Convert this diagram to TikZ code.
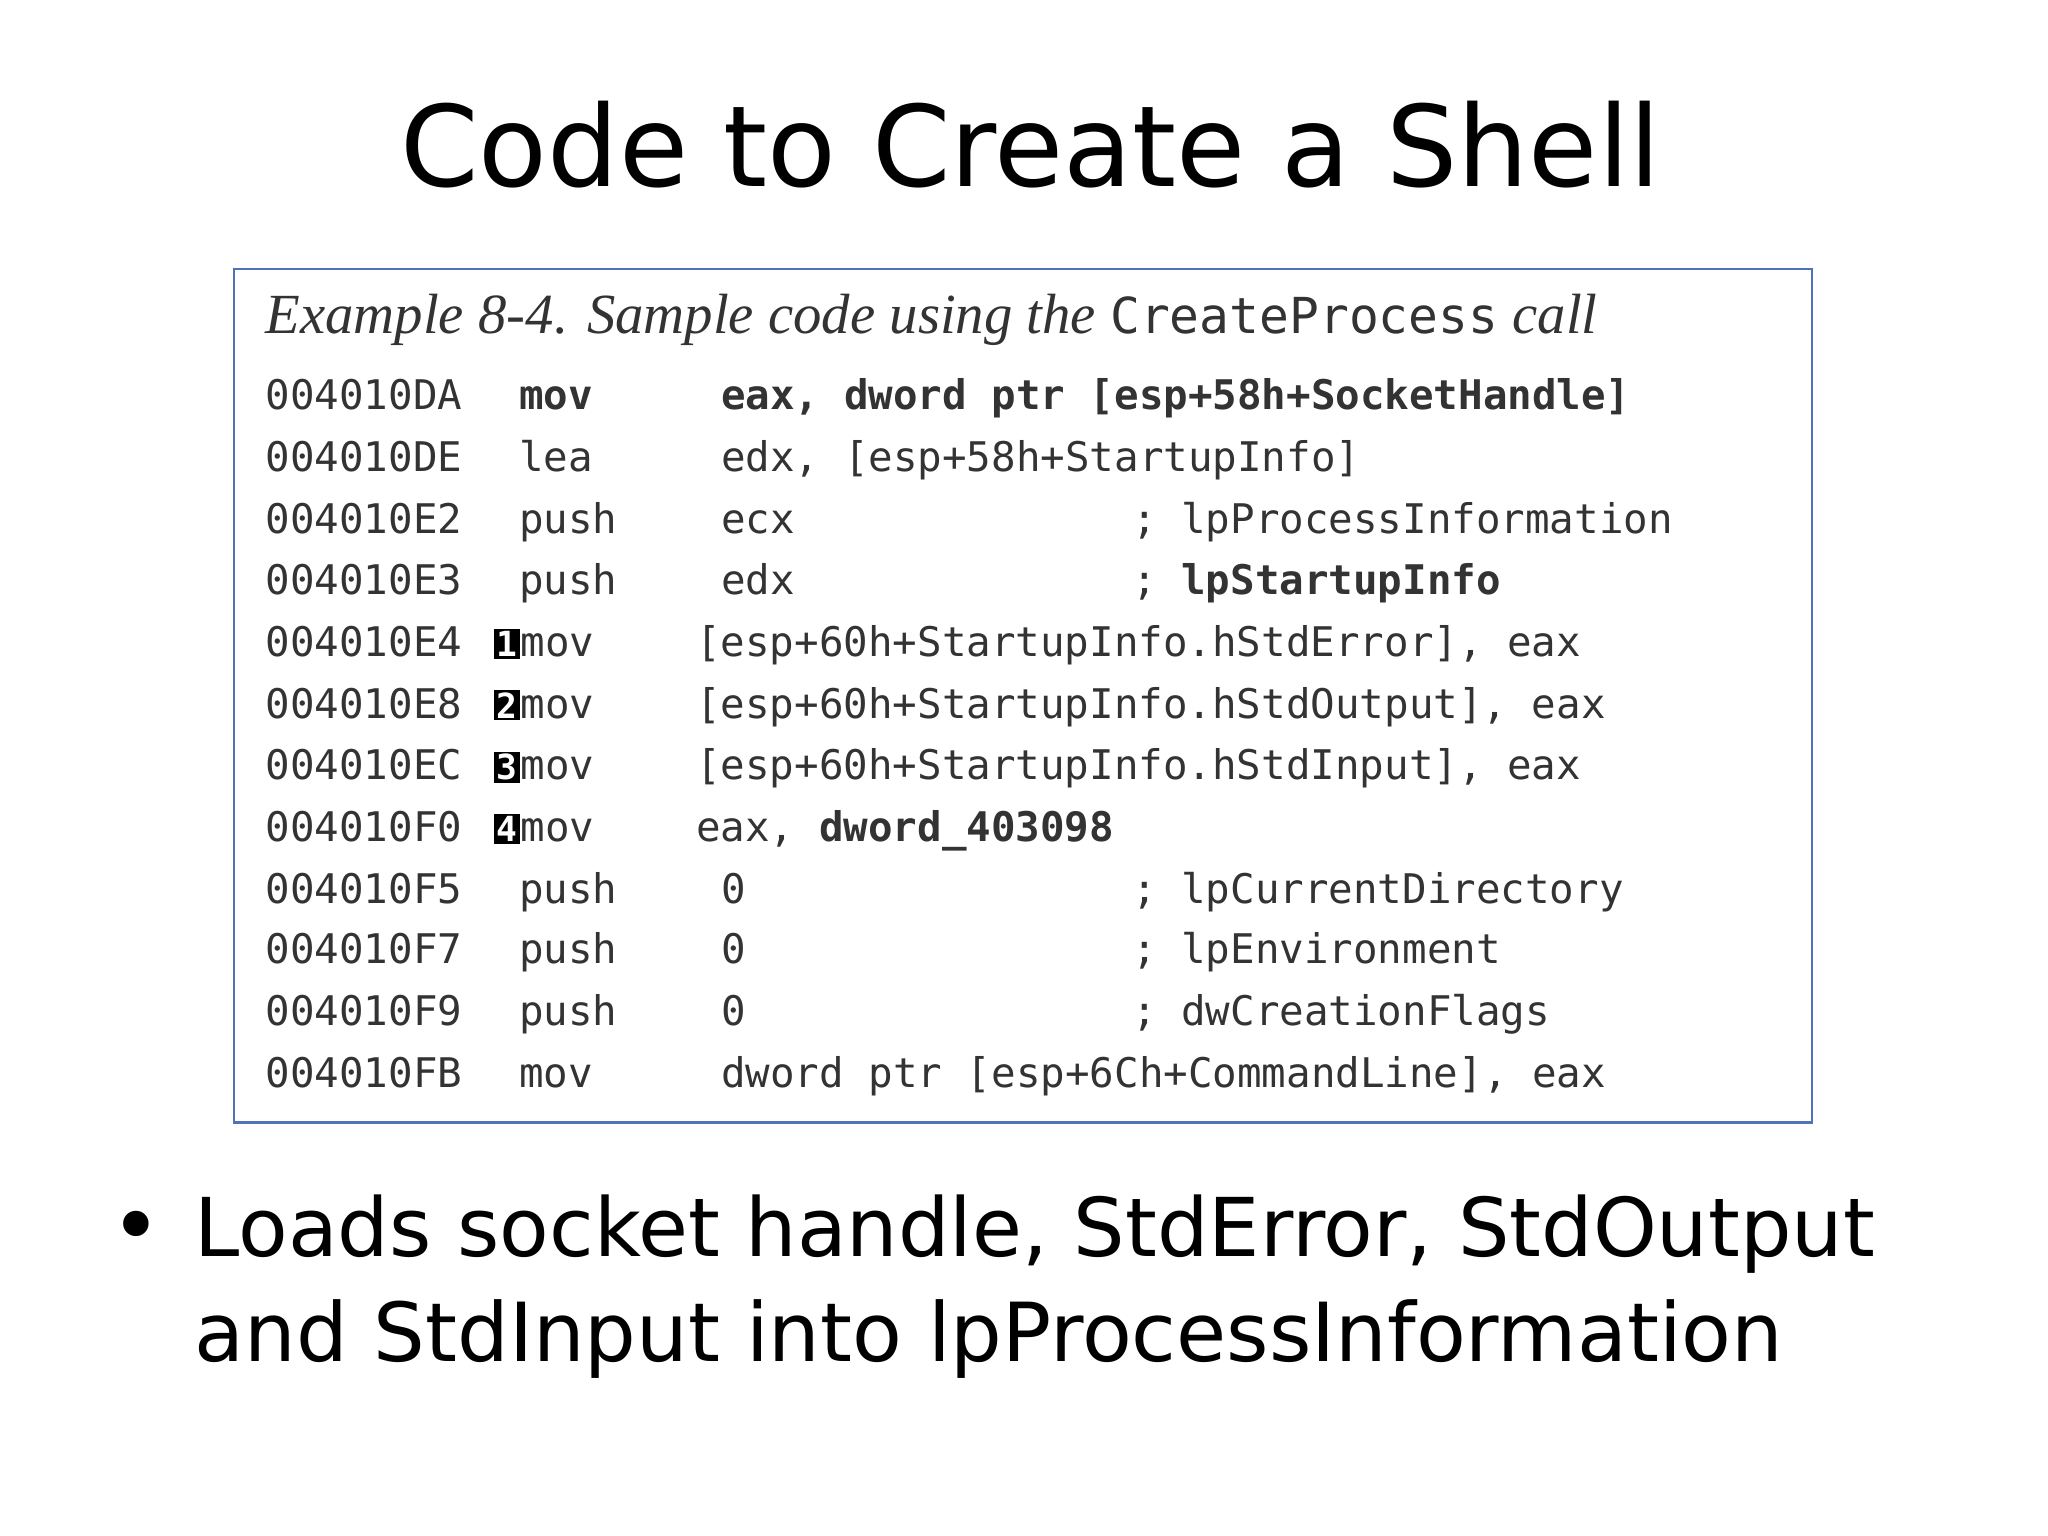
\documentclass[tikz,border=0pt]{standalone}
\usepackage{fontspec}
\setmainfont{DejaVu Sans}
\newfontfamily\capfont{Liberation Serif}
\newfontfamily\codefont{DejaVu Sans Mono}
\definecolor{codegray}{HTML}{333333}
\definecolor{boxblue}{HTML}{4F72B8}
\begin{document}
\begin{tikzpicture}[x=0.02cm,y=-0.02cm,
  cl/.style={anchor=base west,inner sep=0pt,font=\codefont\fontsize{17.7}{20}\selectfont,text=codegray},
  badge/.style={fill=black,text=white,inner sep=1pt,anchor=base west,font=\codefont\bfseries\fontsize{15}{18}\selectfont}]
\useasboundingbox (0,0) rectangle (1560,1170);
\node[anchor=base,inner sep=0pt] (title) at (785,142) {\resizebox{19.2cm}{!}{\fontsize{58}{66}\selectfont Code to Create a Shell}};
\draw[boxblue,line width=1pt] (178,205) rectangle (1380,855);
\node[anchor=base west,inner sep=0pt,font=\capfont\itshape\fontsize{24.6}{28}\selectfont,text=codegray] (cap) at (202,254) {Example 8-4. Sample code using the {\codefont\upshape\fontsize{21.5}{24}\selectfont CreateProcess} call};
\foreach \y/\a/\m/\o/\c [count=\i] in {
 312/004010DA/{\bfseries mov}/{\bfseries eax, dword ptr [esp+58h+SocketHandle]}/{},
 359/004010DE/lea/{edx, [esp+58h+StartupInfo]}/{},
 406/004010E2/push/ecx/{; lpProcessInformation},
 453/004010E3/push/edx/{; \bfseries lpStartupInfo},
 688/004010F5/push/0/{; lpCurrentDirectory},
 734/004010F7/push/0/{; lpEnvironment},
 781/004010F9/push/0/{; dwCreationFlags},
 828/004010FB/mov/{dword ptr [esp+6Ch+CommandLine], eax}/{}}{
 \node[cl] (a\i) at (202,\y) {\a};
 \node[cl] (m\i) at (395,\y) {\m};
 \node[cl] (o\i) at (549,\y) {\o};
 \node[cl] (c\i) at (862,\y) {\c};
}
\foreach \y/\a/\n/\o [count=\i] in {
 500/004010E4/1/{[esp+60h+StartupInfo.hStdError], eax},
 547/004010E8/2/{[esp+60h+StartupInfo.hStdOutput], eax},
 594/004010EC/3/{[esp+60h+StartupInfo.hStdInput], eax},
 641/004010F0/4/{eax, \textbf{dword\_403098}}}{
 \node[cl] (na\i) at (202,\y) {\a};
 \node[badge] (nb\i) at (376,\y) {\n};
 \node[cl,anchor=base west] (nm\i) at (nb\i.base east) {mov};
 \node[cl] (no\i) at (530,\y) {\o};
}
\node[anchor=base west,inner sep=0pt,font=\fontsize{38}{44}\selectfont] (b1) at (84,957) {•};
\node[anchor=base west,inner sep=0pt] (t1) at (148,957) {\resizebox{25.6cm}{!}{\fontsize{44}{50}\selectfont Loads socket handle, StdError, StdOutput}};
\node[anchor=base west,inner sep=0pt] (t2) at (148,1037) {\resizebox{24.2cm}{!}{\fontsize{44}{50}\selectfont and StdInput into lpProcessInformation}};
\end{tikzpicture}
\end{document}
